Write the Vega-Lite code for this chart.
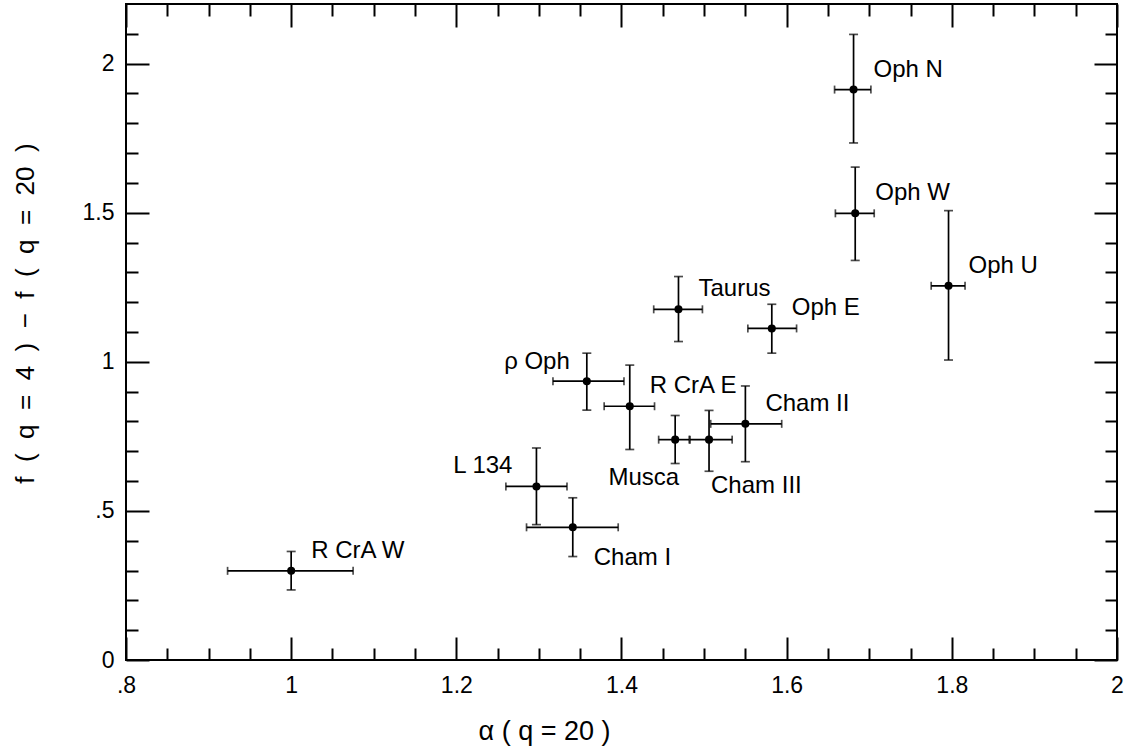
{
  "$schema": "https://vega.github.io/schema/vega-lite/v6.json",
  "width": 991,
  "height": 656,
  "autosize": {"type": "none"},
  "padding": {"left": 126, "top": 4, "right": 11, "bottom": 86},
  "background": "white",
  "config": {
    "view": {"stroke": "black", "strokeWidth": 2},
    "font": "Liberation Sans",
    "axis": {
      "grid": false, "domain": false, "tickColor": "black", "tickWidth": 2,
      "labelColor": "black", "titleColor": "black", "titleFontWeight": "normal",
      "labelFont": "Liberation Sans", "titleFont": "Liberation Sans",
      "labelFontSize": 23, "titleFontSize": 26
    }
  },
  "data": {
    "values": [
      {"name": "R CrA W", "x": 1.0, "xlo": 0.923, "xhi": 1.075, "y": 0.299, "ylo": 0.235, "yhi": 0.364},
      {"name": "Cham I", "x": 1.341, "xlo": 1.285, "xhi": 1.396, "y": 0.445, "ylo": 0.347, "yhi": 0.544},
      {"name": "L 134", "x": 1.297, "xlo": 1.26, "xhi": 1.334, "y": 0.582, "ylo": 0.454, "yhi": 0.711},
      {"name": "ρ Oph", "x": 1.358, "xlo": 1.317, "xhi": 1.403, "y": 0.935, "ylo": 0.838, "yhi": 1.029},
      {"name": "R CrA E", "x": 1.41, "xlo": 1.379, "xhi": 1.44, "y": 0.851, "ylo": 0.706, "yhi": 0.989},
      {"name": "Musca", "x": 1.465, "xlo": 1.445, "xhi": 1.482, "y": 0.739, "ylo": 0.659, "yhi": 0.82},
      {"name": "Cham III", "x": 1.506, "xlo": 1.483, "xhi": 1.534, "y": 0.739, "ylo": 0.633, "yhi": 0.837},
      {"name": "Cham II", "x": 1.55, "xlo": 1.508, "xhi": 1.594, "y": 0.792, "ylo": 0.665, "yhi": 0.919},
      {"name": "Taurus", "x": 1.469, "xlo": 1.439, "xhi": 1.498, "y": 1.176, "ylo": 1.068, "yhi": 1.286},
      {"name": "Oph E", "x": 1.582, "xlo": 1.553, "xhi": 1.612, "y": 1.112, "ylo": 1.029, "yhi": 1.193},
      {"name": "Oph N", "x": 1.681, "xlo": 1.658, "xhi": 1.702, "y": 1.913, "ylo": 1.734, "yhi": 2.098},
      {"name": "Oph W", "x": 1.683, "xlo": 1.659, "xhi": 1.706, "y": 1.498, "ylo": 1.34, "yhi": 1.653},
      {"name": "Oph U", "x": 1.796, "xlo": 1.775, "xhi": 1.816, "y": 1.255, "ylo": 1.006, "yhi": 1.507}
    ]
  },
  "resolve": {"scale": {"x": "shared", "y": "shared"}, "axis": {"x": "independent", "y": "independent"}},
  "layer": [
    {
      "mark": {"type": "rule", "color": "black", "strokeWidth": 1.7},
      "encoding": {
        "x": {"field": "x", "type": "quantitative", "scale": {"domain": [0.8, 2], "nice": false, "zero": false},
          "axis": {"orient": "bottom", "values": [0.8, 1, 1.2, 1.4, 1.6, 1.8, 2], "tickSize": -23, "labelPadding": 37,
            "labelFlush": false, "labelOverlap": false,
            "labelExpr": "datum.value > 0 && datum.value < 1 ? replace(format(datum.value, '.1f'), '0.', '.') : format(datum.value, '~g')",
            "title": "α ( q = 20 )", "titleFontSize": 27, "titleX": 418, "titleY": 79, "titleBaseline": "alphabetic", "titleAlign": "center"}},
        "y": {"field": "ylo", "type": "quantitative", "scale": {"domain": [0, 2.2], "nice": false, "zero": false},
          "axis": {"orient": "left", "values": [0, 0.5, 1, 1.5, 2], "tickSize": -23, "labelPadding": 35,
            "labelFlush": false, "labelOverlap": false,
            "labelExpr": "datum.value > 0 && datum.value < 1 ? replace(format(datum.value, '.1f'), '0.', '.') : format(datum.value, '~g')",
            "title": "f \u00a0( \u00a0q \u00a0= \u00a04 \u00a0) \u00a0− \u00a0f \u00a0( \u00a0q \u00a0= \u00a020 \u00a0)", "titleX": -93, "titleY": 309, "titleAngle": 270,
            "titleBaseline": "alphabetic", "titleAlign": "center"}},
        "y2": {"field": "yhi"}
      }
    },
    {
      "mark": {"type": "rule", "color": "black", "strokeWidth": 1.7},
      "encoding": {
        "x": {"field": "xlo", "type": "quantitative", "scale": {"domain": [0.8, 2], "nice": false, "zero": false},
          "axis": {"orient": "bottom", "values": [0.85, 0.9, 0.95, 1.05, 1.1, 1.15, 1.25, 1.3, 1.35, 1.45, 1.5, 1.55, 1.65, 1.7, 1.75, 1.85, 1.9, 1.95],
            "tickSize": -12, "labels": false, "title": null}},
        "x2": {"field": "xhi"},
        "y": {"field": "y", "type": "quantitative", "scale": {"domain": [0, 2.2], "nice": false, "zero": false},
          "axis": {"orient": "left", "values": [0.1, 0.2, 0.3, 0.4, 0.6, 0.7, 0.8, 0.9, 1.1, 1.2, 1.3, 1.4, 1.6, 1.7, 1.8, 1.9, 2.1],
            "tickSize": -12, "labels": false, "title": null}}
      }
    },
    {
      "mark": {"type": "point", "filled": true, "color": "black", "opacity": 1, "size": 65},
      "encoding": {
        "x": {"field": "x", "type": "quantitative", "scale": {"domain": [0.8, 2], "nice": false, "zero": false},
          "axis": {"orient": "top", "values": [0.8, 1, 1.2, 1.4, 1.6, 1.8, 2], "tickSize": -23, "labels": false, "title": null}},
        "y": {"field": "y", "type": "quantitative", "scale": {"domain": [0, 2.2], "nice": false, "zero": false},
          "axis": {"orient": "right", "values": [0, 0.5, 1, 1.5, 2], "tickSize": -23, "labels": false, "title": null}}
      }
    },
    {
      "mark": {"type": "tick", "orient": "horizontal", "color": "black", "size": 9, "thickness": 1.7},
      "encoding": {
        "x": {"field": "x", "type": "quantitative", "scale": {"domain": [0.8, 2], "nice": false, "zero": false},
          "axis": {"orient": "top", "values": [0.85, 0.9, 0.95, 1.05, 1.1, 1.15, 1.25, 1.3, 1.35, 1.45, 1.5, 1.55, 1.65, 1.7, 1.75, 1.85, 1.9, 1.95],
            "tickSize": -12, "labels": false, "title": null}},
        "y": {"field": "ylo", "type": "quantitative", "scale": {"domain": [0, 2.2], "nice": false, "zero": false},
          "axis": {"orient": "right", "values": [0.1, 0.2, 0.3, 0.4, 0.6, 0.7, 0.8, 0.9, 1.1, 1.2, 1.3, 1.4, 1.6, 1.7, 1.8, 1.9, 2.1],
            "tickSize": -12, "labels": false, "title": null}}
      }
    },
    {
      "mark": {"type": "tick", "orient": "horizontal", "color": "black", "size": 9, "thickness": 1.7},
      "encoding": {
        "x": {"field": "x", "type": "quantitative", "scale": {"domain": [0.8, 2], "nice": false, "zero": false}, "axis": null},
        "y": {"field": "yhi", "type": "quantitative", "scale": {"domain": [0, 2.2], "nice": false, "zero": false}, "axis": null}
      }
    },
    {
      "mark": {"type": "tick", "orient": "vertical", "color": "black", "size": 8, "thickness": 1.7},
      "encoding": {
        "x": {"field": "xlo", "type": "quantitative", "scale": {"domain": [0.8, 2], "nice": false, "zero": false}, "axis": null},
        "y": {"field": "y", "type": "quantitative", "scale": {"domain": [0, 2.2], "nice": false, "zero": false}, "axis": null}
      }
    },
    {
      "mark": {"type": "tick", "orient": "vertical", "color": "black", "size": 8, "thickness": 1.7},
      "encoding": {
        "x": {"field": "xhi", "type": "quantitative", "scale": {"domain": [0.8, 2], "nice": false, "zero": false}, "axis": null},
        "y": {"field": "y", "type": "quantitative", "scale": {"domain": [0, 2.2], "nice": false, "zero": false}, "axis": null}
      }
    },
    {
      "transform": [{"filter": "indexof(['L 134', 'ρ Oph', 'Musca', 'Cham III', 'Cham I'], datum.name) < 0"}],
      "mark": {"type": "text", "align": "left", "baseline": "alphabetic", "dx": 20, "dy": -13, "fontSize": 24, "font": "Liberation Sans", "color": "black"},
      "encoding": {
        "x": {"field": "x", "type": "quantitative", "scale": {"domain": [0.8, 2], "nice": false, "zero": false}, "axis": null},
        "y": {"field": "y", "type": "quantitative", "scale": {"domain": [0, 2.2], "nice": false, "zero": false}, "axis": null},
        "text": {"field": "name"}
      }
    },
    {
      "transform": [{"filter": "datum.name === 'L 134'"}],
      "mark": {"type": "text", "align": "right", "baseline": "alphabetic", "dx": -24, "dy": -13, "fontSize": 24, "font": "Liberation Sans", "color": "black"},
      "encoding": {
        "x": {"field": "x", "type": "quantitative", "scale": {"domain": [0.8, 2], "nice": false, "zero": false}, "axis": null},
        "y": {"field": "y", "type": "quantitative", "scale": {"domain": [0, 2.2], "nice": false, "zero": false}, "axis": null},
        "text": {"field": "name"}
      }
    },
    {
      "transform": [{"filter": "datum.name === 'ρ Oph'"}],
      "mark": {"type": "text", "align": "right", "baseline": "alphabetic", "dx": -17, "dy": -12, "fontSize": 24, "font": "Liberation Sans", "color": "black"},
      "encoding": {
        "x": {"field": "x", "type": "quantitative", "scale": {"domain": [0.8, 2], "nice": false, "zero": false}, "axis": null},
        "y": {"field": "y", "type": "quantitative", "scale": {"domain": [0, 2.2], "nice": false, "zero": false}, "axis": null},
        "text": {"field": "name"}
      }
    },
    {
      "transform": [{"filter": "datum.name === 'Musca'"}],
      "mark": {"type": "text", "align": "right", "baseline": "alphabetic", "dx": 4, "dy": 45, "fontSize": 24, "font": "Liberation Sans", "color": "black"},
      "encoding": {
        "x": {"field": "x", "type": "quantitative", "scale": {"domain": [0.8, 2], "nice": false, "zero": false}, "axis": null},
        "y": {"field": "y", "type": "quantitative", "scale": {"domain": [0, 2.2], "nice": false, "zero": false}, "axis": null},
        "text": {"field": "name"}
      }
    },
    {
      "transform": [{"filter": "datum.name === 'Cham III'"}],
      "mark": {"type": "text", "align": "left", "baseline": "alphabetic", "dx": 2, "dy": 53, "fontSize": 24, "font": "Liberation Sans", "color": "black"},
      "encoding": {
        "x": {"field": "x", "type": "quantitative", "scale": {"domain": [0.8, 2], "nice": false, "zero": false}, "axis": null},
        "y": {"field": "y", "type": "quantitative", "scale": {"domain": [0, 2.2], "nice": false, "zero": false}, "axis": null},
        "text": {"field": "name"}
      }
    },
    {
      "transform": [{"filter": "datum.name === 'Cham I'"}],
      "mark": {"type": "text", "align": "left", "baseline": "alphabetic", "dx": 21, "dy": 38, "fontSize": 24, "font": "Liberation Sans", "color": "black"},
      "encoding": {
        "x": {"field": "x", "type": "quantitative", "scale": {"domain": [0.8, 2], "nice": false, "zero": false}, "axis": null},
        "y": {"field": "y", "type": "quantitative", "scale": {"domain": [0, 2.2], "nice": false, "zero": false}, "axis": null},
        "text": {"field": "name"}
      }
    }
  ]
}
